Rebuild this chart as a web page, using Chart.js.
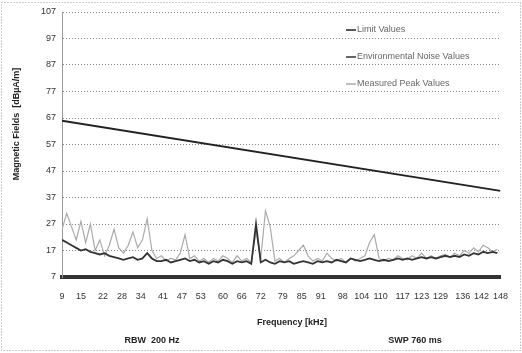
<!DOCTYPE html>
<html>
<head>
<meta charset="utf-8">
<script src="https://cdn.jsdelivr.net/npm/chart.js@4/dist/chart.umd.min.js"></script>
<style>
  html, body { margin: 0; padding: 0; background: #fff; }
  #wrap { width: 522px; height: 353px; }
</style>
</head>
<body>
<div id="wrap"><canvas id="c" width="522" height="353"></canvas></div>
<script>
// frequências (kHz)
const freqs = [9, 10.5, 12, 13.5, 15, 16.5, 18, 19.5, 21, 22.5, 24, 25.5, 27, 28.5, 30, 31.5, 33, 34.5, 36, 37.5,
  39, 40.5, 42, 43.5, 45, 46.5, 48, 49.5, 51, 52.5, 54, 55.5, 57, 58.5, 60, 61.5, 63, 64.5, 66, 67.5,
  69, 70.5, 72, 73.5, 75, 76.5, 78, 79.5, 81, 82.5, 84, 85.5, 87, 88.5, 90, 91.5, 93, 94.5, 96, 97.5,
  99, 100.5, 102, 103.5, 105, 106.5, 108, 109.5, 111, 112.5, 114, 115.5, 117, 118.5, 120, 121.5, 123, 124.5, 126, 127.5,
  129, 130.5, 132, 133.5, 135, 136.5, 138, 139.5, 141, 142.5, 144, 145.5, 147];

// Measured Peak Values (linha clara)
const peakValues = [25, 31, 26, 21, 28, 20, 27, 17, 21, 15, 19, 25, 18, 16, 19, 24, 18, 21, 29, 17,
  14, 15, 13, 14, 13.5, 16, 23, 14, 15, 13, 14, 12.5, 14, 13, 15, 14, 12.5, 15, 13, 14,
  12.5, 24, 14, 32, 26, 13, 14, 12.5, 14, 15, 17, 19, 15, 13, 14, 13, 16, 14, 13, 14,
  12.5, 14, 13, 14, 15, 20, 23, 14, 13, 14, 13.5, 15, 14, 13.5, 15, 14, 16, 14, 15, 14,
  15, 15.5, 14.5, 16, 15, 17, 16, 18, 16.5, 19, 18, 16.5, 17.5];

// Environmental Noise Values (linha escura)
const noiseValues = [21, 20, 19, 18, 17, 17.5, 16.5, 16, 15.5, 16, 15, 14.5, 14, 13.5, 14, 14.5, 13.5, 14, 16, 14,
  13, 13, 13.5, 12.5, 13, 13.5, 14, 13, 13.5, 12.5, 13, 12, 13, 12.5, 13.5, 13, 12, 13, 12.5, 13,
  12, 27, 12.5, 13.5, 12.5, 12, 13, 12.5, 13, 12, 12.5, 13, 12.5, 12, 13, 12.5, 13, 12.5, 13.5, 13,
  12.5, 14, 13.5, 13, 13.5, 14, 13.5, 13, 13.5, 13, 13.5, 14, 13.5, 14, 13.5, 14, 14.5, 14, 14.5, 14,
  14.5, 15, 14.5, 15, 14.5, 15.5, 15, 16, 15.5, 16.5, 16, 16.5, 16];

// Limit Values (reta)
const limitFreqs = [9, 148];
const limitValues = [66, 39.5];

const xTicks = [9, 15, 22, 28, 34, 41, 47, 53, 60, 66, 72, 79, 85, 91, 98, 104, 110, 117, 123, 129, 136, 142, 148];
const yTicks = [7, 17, 27, 37, 47, 57, 67, 77, 87, 97, 107];

const legendItems = [
  { label: 'Limit Values', color: '#222' },
  { label: 'Environmental Noise Values', color: '#333' },
  { label: 'Measured Peak Values', color: '#aaa' }
];

const toPoints = (xs, ys) => xs.map((x, i) => ({ x: x, y: ys[i] }));

// textos extra, legenda e moldura
const extrasPlugin = {
  id: 'extras',
  afterDraw(chart) {
    const { ctx } = chart;
    ctx.save();
    // moldura pontilhada
    ctx.strokeStyle = '#999';
    ctx.lineWidth = 1;
    ctx.setLineDash([1, 2]);
    ctx.strokeRect(1.5, 2.5, 519, 348);
    ctx.setLineDash([]);

    // legenda
    ctx.font = '9px "Liberation Sans", Arial, sans-serif';
    ctx.textBaseline = 'middle';
    legendItems.forEach((it, i) => {
      const y = 30 + i * 27;
      ctx.strokeStyle = it.color;
      ctx.lineWidth = 1.5;
      ctx.beginPath();
      ctx.moveTo(346, y);
      ctx.lineTo(356, y);
      ctx.stroke();
      ctx.fillStyle = '#666';
      ctx.textAlign = 'left';
      ctx.fillText(it.label, 357, y);
    });

    // título do eixo y
    ctx.fillStyle = '#222';
    ctx.font = 'bold 9px "Liberation Sans", Arial, sans-serif';
    ctx.translate(17, 124);
    ctx.rotate(-Math.PI / 2);
    ctx.textAlign = 'center';
    ctx.fillText('Magnetic Fields  [dBµA/m]', 0, 0);
    ctx.restore();

    ctx.save();
    ctx.fillStyle = '#222';
    ctx.font = 'bold 9px "Liberation Sans", Arial, sans-serif';
    ctx.textBaseline = 'middle';
    ctx.textAlign = 'center';
    ctx.fillText('Frequency [kHz]', 292, 323);
    ctx.fillText('RBW  200 Hz', 152, 341);
    ctx.fillText('SWP 760 ms', 415, 341);
    ctx.restore();
  }
};

new Chart(document.getElementById('c'), {
  type: 'line',
  data: {
    datasets: [
      {
        label: 'Limit Values',
        data: toPoints(limitFreqs, limitValues),
        borderColor: '#222',
        borderWidth: 2,
        pointRadius: 0
      },
      {
        label: 'Environmental Noise Values',
        data: toPoints(freqs, noiseValues),
        borderColor: '#333',
        borderWidth: 1.8,
        pointRadius: 0
      },
      {
        label: 'Measured Peak Values',
        data: toPoints(freqs, peakValues),
        borderColor: '#aaa',
        borderWidth: 1.2,
        pointRadius: 0
      }
    ]
  },
  options: {
    responsive: false,
    animation: false,
    layout: { padding: { left: 0, top: 12, right: 15, bottom: 0 } },
    plugins: {
      legend: { display: false },
      tooltip: { enabled: false }
    },
    scales: {
      x: {
        type: 'linear',
        min: 9,
        max: 148,
        afterBuildTicks(scale) { scale.ticks = xTicks.map(v => ({ value: v })); },
        afterFit(scale) { scale.height = 76; },
        grid: { display: false, drawTicks: false },
        border: { display: true, color: '#333', width: 4 },
        ticks: {
          autoSkip: false,
          maxRotation: 0,
          padding: 14,
          color: '#333',
          font: { size: 9, family: '"Liberation Sans", Arial, sans-serif' }
        }
      },
      y: {
        min: 7,
        max: 107,
        afterBuildTicks(scale) { scale.ticks = yTicks.map(v => ({ value: v })); },
        afterFit(scale) { scale.width = 62; },
        grid: { color: '#888', lineWidth: 1, drawTicks: false },
        border: { display: true, color: '#999', dash: [1, 2] },
        ticks: {
          padding: 6,
          color: '#333',
          font: { size: 9, family: '"Liberation Sans", Arial, sans-serif' }
        }
      }
    }
  },
  plugins: [extrasPlugin]
});
</script>
</body>
</html>
